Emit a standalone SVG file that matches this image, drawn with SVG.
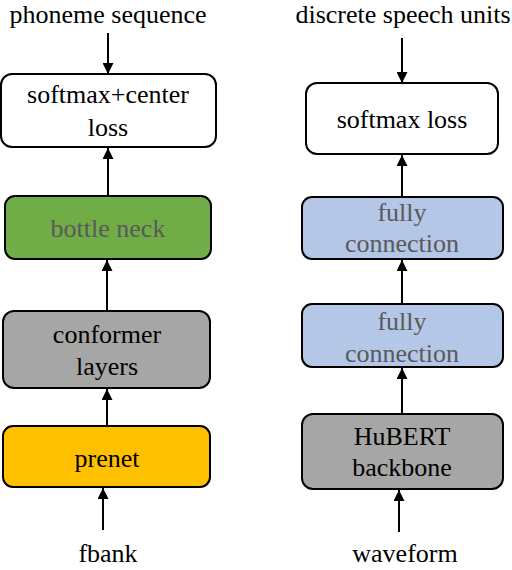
<svg xmlns="http://www.w3.org/2000/svg" width="512" height="570" viewBox="0 0 512 570">
<style>
text{font-family:'Liberation Serif','Times New Roman',serif;font-size:26px;text-anchor:middle;fill:#000}
.g{fill:#595959}
.box{stroke:#000;stroke-width:2}
.c{stroke:#000;stroke-width:2;fill:none;marker-end:url(#ah)}
</style>
<defs>
<marker id="ah" viewBox="0 0 10 10" refX="10" refY="5" markerWidth="5.5" markerHeight="5.5" orient="auto" markerUnits="strokeWidth">
<path d="M0,0L10,5L0,10z" fill="#000"/>
</marker>
</defs>
<rect width="512" height="570" fill="#fff"/>
<g id="connectors">
<line class="c" x1="108" y1="33" x2="108" y2="74"/>
<line class="c" x1="108" y1="196" x2="108" y2="148"/>
<line class="c" x1="107" y1="311" x2="107" y2="260"/>
<line class="c" x1="107" y1="426" x2="107" y2="389"/>
<line class="c" x1="103" y1="530" x2="103" y2="488"/>
<line class="c" x1="402" y1="38" x2="402" y2="83"/>
<line class="c" x1="402" y1="197" x2="402" y2="155"/>
<line class="c" x1="402" y1="304" x2="402" y2="260"/>
<line class="c" x1="402" y1="414" x2="402" y2="368"/>
<line class="c" x1="399" y1="532" x2="399" y2="490"/>
</g>
<g id="label-phoneme"><text x="108" y="23" font-size="26.5">phoneme sequence</text></g>
<g id="label-discrete"><text x="403" y="23">discrete speech units</text></g>
<g id="label-fbank"><text x="108" y="562">fbank</text></g>
<g id="label-waveform"><text x="405" y="562">waveform</text></g>
<g id="softmax-center">
<rect class="box" x="1" y="74" width="215" height="73" rx="11" fill="#fff"/>
<text x="108" y="103" font-size="26.5">softmax+center</text>
<text x="108" y="136">loss</text>
</g>
<g id="bottle-neck">
<rect class="box" x="5" y="196" width="206" height="63" rx="10" fill="#70AD47"/>
<text class="g" x="108" y="237">bottle neck</text>
</g>
<g id="conformer">
<rect class="box" x="3" y="311" width="207" height="77" rx="11" fill="#A6A6A6"/>
<text x="107" y="343">conformer</text>
<text x="107" y="375">layers</text>
</g>
<g id="prenet">
<rect class="box" x="3" y="426" width="207" height="61" rx="10" fill="#FFC000"/>
<text x="107" y="467">prenet</text>
</g>
<g id="softmax-loss">
<rect class="box" x="306" y="83" width="192" height="71" rx="11" fill="#fff"/>
<text x="402" y="128">softmax loss</text>
</g>
<g id="fc1">
<rect class="box" x="302" y="197" width="201" height="62" rx="10" fill="#B4C7E7"/>
<text class="g" x="402" y="221">fully</text>
<text class="g" x="402" y="252">connection</text>
</g>
<g id="fc2">
<rect class="box" x="302" y="304" width="201" height="63" rx="10" fill="#B4C7E7"/>
<text class="g" x="402" y="330">fully</text>
<text class="g" x="402" y="362">connection</text>
</g>
<g id="hubert">
<rect class="box" x="302" y="414" width="201" height="75" rx="11" fill="#A6A6A6"/>
<text x="402" y="445">HuBERT</text>
<text x="402" y="476">backbone</text>
</g>
</svg>
